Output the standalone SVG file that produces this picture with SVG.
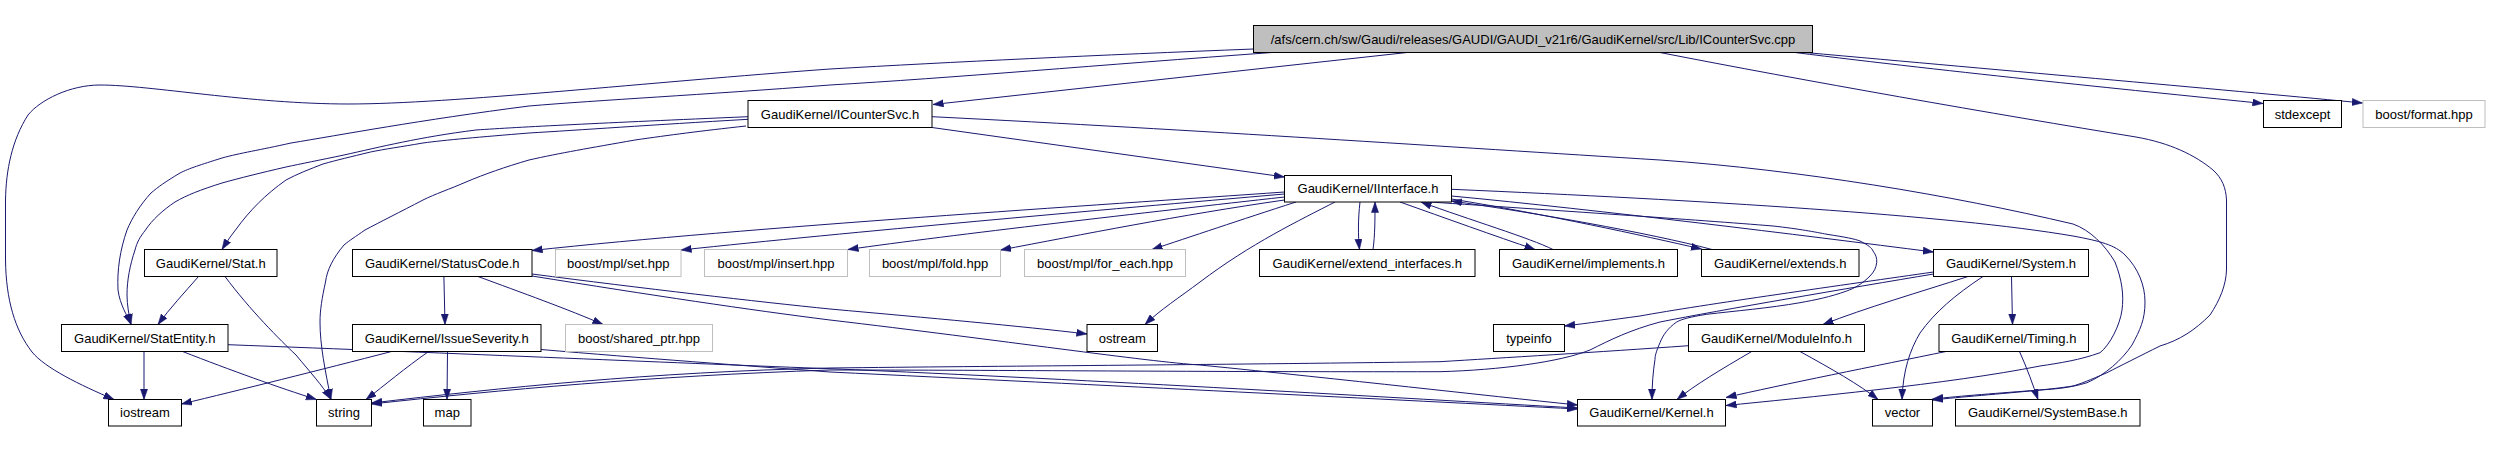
<svg xmlns="http://www.w3.org/2000/svg" width="2493" height="452" viewBox="0 0 2493 452">
<style>
.n rect{fill:#fff;stroke:#000;stroke-width:1}
.n.g rect{stroke:#bfbfbf}
.n.r rect{fill:#bfbfbf}
.n text{font-family:"Liberation Sans",Arial,sans-serif;font-size:13px;fill:#000;text-anchor:middle}
.e path{fill:none;stroke:#191970;stroke-width:1;marker-end:url(#ah)}
</style>
<defs>
<marker id="ah" markerWidth="11" markerHeight="8" refX="10.5" refY="4" orient="auto" markerUnits="userSpaceOnUse">
<path d="M0,0.4 L10.5,4 L0,7.6 z" fill="#191970" stroke="#191970" stroke-width="0.5"/>
</marker>
</defs>
<rect width="2493" height="452" fill="#fff"/>
<g class="e" id="edges">
<path d="M1407,52.5 L933,104.5"/>
<path d="M1253.5,49 C1100,55 950,62 830,69 C650,82 450,104 349,104 C250,104 150,85 100,85 C70,85 40,100 28,115 C12,140 6,170 5.5,200 L5.5,260 C6,300 15,330 32,352 C45,368 80,385 114,399.5"/>
<path d="M1272,52.5 C1100,65 950,78 830,85 C700,95 600,100 529,106 C420,120 340,135 291,143 C260,150 240,153 222,158 C200,165 190,168 180,173 C165,182 158,187 151,193 C140,205 132,218 127,230 C120,250 117,270 118,290 C120,305 127,315 131,324.5"/>
<path d="M1795,52.5 C1950,72 2150,92 2263,103.5"/>
<path d="M1805,52.5 C2000,70 2250,92 2362.5,103"/>
<path d="M1660,52.5 C1800,80 2000,115 2136,137 C2170,143 2195,155 2213,170 C2222,178 2226,188 2226.5,200 L2226.5,270 C2226,285 2220,300 2210,315 C2195,330 2180,340 2160,346 C2140,356 2120,366 2107,372.7 C2090,380 2080,384 2073,386 C2060,388 2050,389 2040,390 C2000,394 1960,397 1932.5,400"/>
<path d="M932,127.5 L1284.5,177"/>
<path d="M748,116.7 C600,123 520,127 476,130 C420,137 380,147 344,155 C320,160 300,164 286,167 C260,173 240,178 222,183 C200,190 187,195 175,202 C163,210 152,220 145.5,230 C140,237 137,242 135,250 C130,265 127,280 127,295 C127,305 129,315 131,324.5"/>
<path d="M748,119.3 C650,125 580,130 529,133 C480,137 445,140 423,143 C400,147 385,149 370.5,152 C350,157 337,160 323,164 C310,169 297,174 286,180 C265,195 250,210 235.5,230 C230,237 226,243 222,249.5"/>
<path d="M746,126 C700,131 670,135 635,140 C590,148 560,153 529,160 C505,167 485,174 466,182 C450,189 435,194 423,200 C400,212 380,222 365,230 C355,237 350,240 344,245 C333,258 327,270 325.5,282 C322,298 320,310 320,322 C320,345 325,370 331,399.5"/>
<path d="M932,116.7 C1200,130 1450,147 1660,160 C1800,170 1950,195 2073,224 C2090,230 2105,245 2115,262 C2122,280 2124,295 2122,310 C2120,325 2110,345 2100,352.7 C2080,360 2060,363 2040,366 C1950,384 1800,398 1726,405.5"/>
<path d="M1284.5,192 C1100,205 750,227 532,250.5"/>
<path d="M1284.5,194 C1100,210 850,232 681,250"/>
<path d="M1284.5,197 C1150,212 950,235 848,249.5"/>
<path d="M1284.5,200 C1180,215 1080,235 1000.5,250"/>
<path d="M1296,202 C1240,220 1190,237 1152,249.5"/>
<path d="M1335,202 C1300,220 1250,244 1200,282 C1180,297 1160,310 1145,324.5"/>
<path d="M1360,202 C1358,220 1358,235 1359.5,249.5"/>
<path d="M1373,249.5 C1375,235 1375,220 1375,202"/>
<path d="M1400,202 C1445,218 1495,236 1535,249.5"/>
<path d="M1553,249.5 C1530,238 1470,220 1421,202"/>
<path d="M1451.5,199 C1550,215 1640,235 1701.5,249"/>
<path d="M1712,249.5 C1650,233 1530,212 1451.5,201"/>
<path d="M1451.5,196 C1600,210 1800,235 1933.5,252"/>
<path d="M1430,202 C1550,210 1700,220 1773,226 C1800,229 1815,232 1827,234.3 C1845,237 1855,239 1860,241 C1868,245 1872,248 1873,251 C1876,255 1877,258 1876.7,262.7 C1876,268 1874,272 1870,276 C1862,284 1855,288 1846.7,291 C1830,297 1815,300 1800,302.7 C1770,308 1735,311 1706.7,314.3 C1690,317 1682,319 1676.7,322 C1668,328 1663,335 1660,342.7 C1656,352 1655,356 1655,359.3 C1653,372 1652,385 1652,399.5"/>
<path d="M1451.5,189.3 C1700,200 1950,215 2073,236 C2100,241 2115,245 2125,255 C2138,268 2145,285 2145,302 C2145,320 2140,330 2132,345 C2122,360 2105,375 2087,382.7 C2070,388 2055,389 2040,390 C2000,393 1960,396 1932.5,399"/>
<path d="M1933.5,272 C1850,284 1700,305 1640,316 C1610,320 1590,323 1564.5,326"/>
<path d="M1933.5,274 C1850,288 1720,310 1660,322 C1630,330 1610,340 1590,350 C1560,362 1500,370 1440,371.7 C1200,372 1000,370 830,370 C650,376 500,390 371.5,404"/>
<path d="M1688.5,345.7 C1600,352 1500,358 1440,361.7 C1200,365 1000,366 830,368 C650,372 500,388 371.5,403"/>
<path d="M1968,276.5 C1920,292 1865,308 1823,324.5"/>
<path d="M1983,276.5 C1955,295 1935,312 1920,333 C1910,350 1903,370 1902,399.5"/>
<path d="M2011.5,276.5 L2012.5,324.5"/>
<path d="M1751.7,351.5 C1720,370 1695,385 1677,399.5"/>
<path d="M1800,351.5 C1830,368 1860,385 1878,399.5"/>
<path d="M1946,351.5 C1880,365 1780,385 1726,397.5"/>
<path d="M2019.5,351.5 C2027,368 2033,385 2038,399.5"/>
<path d="M443.9,276.5 L445,324.5"/>
<path d="M478,276.5 C520,292 570,310 603,324.5"/>
<path d="M532,274 C640,288 760,302 830,309 C930,318 1020,326 1087,334"/>
<path d="M532,276 C650,295 750,310 830,320 C1000,340 1150,362 1200,365 C1350,380 1480,395 1577.5,405"/>
<path d="M391.5,351.5 C320,370 240,390 181.5,404"/>
<path d="M428.6,351.5 C405,368 385,385 366,399.5"/>
<path d="M447.5,351.5 L447,399.5"/>
<path d="M541,349.5 C640,358 750,366 830,372 C1100,385 1400,400 1577.5,409"/>
<path d="M144,351.5 L144,399.5"/>
<path d="M182.6,351.5 C230,370 280,388 316.5,399.5"/>
<path d="M228,344.7 C450,353 700,364 830,368.7 C1100,380 1400,398 1577.5,408"/>
<path d="M198.5,276.5 C185,292 170,308 158,324.5"/>
<path d="M225,276.5 C250,310 280,340 296,355 C310,372 322,385 331,399.5"/>
</g>
<g id="n_root" class="n r"><rect x="1253.5" y="25.5" width="559" height="27"/><text x="1533" y="43.5">/afs/cern.ch/sw/Gaudi/releases/GAUDI/GAUDI_v21r6/GaudiKernel/src/Lib/ICounterSvc.cpp</text></g>
<g id="n_icountersvc" class="n"><rect x="748" y="100.5" width="184" height="27"/><text x="840" y="118.5">GaudiKernel/ICounterSvc.h</text></g>
<g id="n_stdexcept" class="n"><rect x="2263.5" y="100.5" width="78" height="27"/><text x="2302.5" y="118.5">stdexcept</text></g>
<g id="n_format" class="n g"><rect x="2363" y="100.5" width="122" height="27"/><text x="2424" y="118.5">boost/format.hpp</text></g>
<g id="n_iinterface" class="n"><rect x="1284.5" y="175.5" width="167" height="26.5"/><text x="1368" y="193">GaudiKernel/IInterface.h</text></g>
<g id="n_stat" class="n"><rect x="144.5" y="249.5" width="132.5" height="27"/><text x="210.75" y="267.5">GaudiKernel/Stat.h</text></g>
<g id="n_statuscode" class="n"><rect x="352.5" y="249.5" width="179.5" height="27"/><text x="442.25" y="267.5">GaudiKernel/StatusCode.h</text></g>
<g id="n_set" class="n g"><rect x="555.5" y="249.5" width="125.5" height="27"/><text x="618.25" y="267.5">boost/mpl/set.hpp</text></g>
<g id="n_insert" class="n g"><rect x="704.5" y="249.5" width="143" height="27"/><text x="776" y="267.5">boost/mpl/insert.hpp</text></g>
<g id="n_fold" class="n g"><rect x="869.5" y="249.5" width="131" height="27"/><text x="935" y="267.5">boost/mpl/fold.hpp</text></g>
<g id="n_foreach" class="n g"><rect x="1024.5" y="249.5" width="161" height="27"/><text x="1105" y="267.5">boost/mpl/for_each.hpp</text></g>
<g id="n_extif" class="n"><rect x="1259.5" y="249.5" width="215.5" height="27"/><text x="1367.25" y="267.5">GaudiKernel/extend_interfaces.h</text></g>
<g id="n_implements" class="n"><rect x="1499.5" y="249.5" width="178" height="27"/><text x="1588.5" y="267.5">GaudiKernel/implements.h</text></g>
<g id="n_extends" class="n"><rect x="1701.5" y="249.5" width="157.5" height="27"/><text x="1780.25" y="267.5">GaudiKernel/extends.h</text></g>
<g id="n_system" class="n"><rect x="1933.5" y="249.5" width="155" height="27"/><text x="2011" y="267.5">GaudiKernel/System.h</text></g>
<g id="n_statentity" class="n"><rect x="61.5" y="324.5" width="166.5" height="27"/><text x="144.75" y="342.5">GaudiKernel/StatEntity.h</text></g>
<g id="n_issue" class="n"><rect x="352.5" y="324.5" width="188.5" height="27"/><text x="446.75" y="342.5">GaudiKernel/IssueSeverity.h</text></g>
<g id="n_sharedptr" class="n g"><rect x="565.5" y="324.5" width="147" height="27"/><text x="639" y="342.5">boost/shared_ptr.hpp</text></g>
<g id="n_ostream" class="n"><rect x="1087" y="324.5" width="70.5" height="27"/><text x="1122.25" y="342.5">ostream</text></g>
<g id="n_typeinfo" class="n"><rect x="1493.5" y="324.5" width="71" height="27"/><text x="1529" y="342.5">typeinfo</text></g>
<g id="n_moduleinfo" class="n"><rect x="1688.5" y="324.5" width="176" height="27"/><text x="1776.5" y="342.5">GaudiKernel/ModuleInfo.h</text></g>
<g id="n_timing" class="n"><rect x="1939" y="324.5" width="149.5" height="27"/><text x="2013.75" y="342.5">GaudiKernel/Timing.h</text></g>
<g id="n_iostream" class="n"><rect x="108.5" y="399.5" width="73" height="26.5"/><text x="145" y="417">iostream</text></g>
<g id="n_string" class="n"><rect x="316.5" y="399.5" width="55" height="26.5"/><text x="344" y="417">string</text></g>
<g id="n_map" class="n"><rect x="423.5" y="399.5" width="47.5" height="26.5"/><text x="447.25" y="417">map</text></g>
<g id="n_kernel" class="n"><rect x="1577.5" y="399.5" width="148" height="26.5"/><text x="1651.5" y="417">GaudiKernel/Kernel.h</text></g>
<g id="n_vector" class="n"><rect x="1872.5" y="399.5" width="60" height="26.5"/><text x="1902.5" y="417">vector</text></g>
<g id="n_systembase" class="n"><rect x="1955.5" y="399.5" width="184.5" height="26.5"/><text x="2047.75" y="417">GaudiKernel/SystemBase.h</text></g>
</svg>
